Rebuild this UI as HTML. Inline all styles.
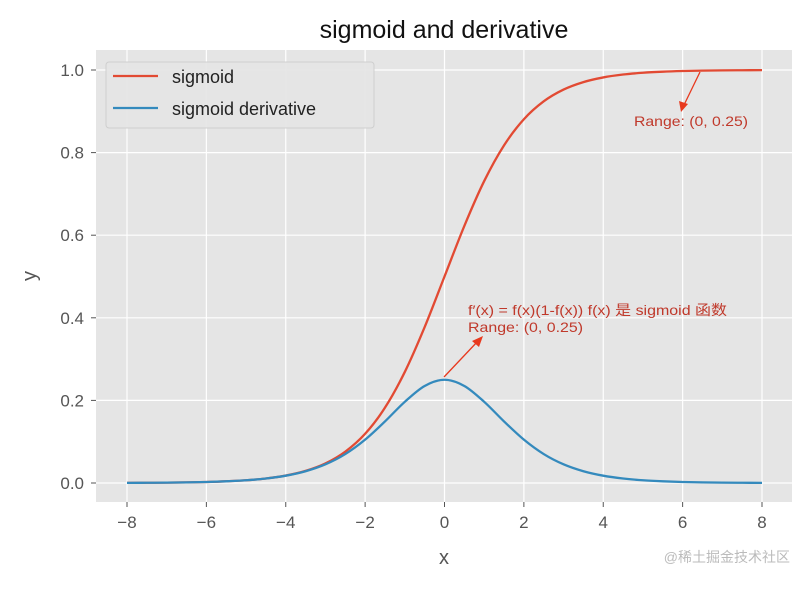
<!DOCTYPE html>
<html><head><meta charset="utf-8"><style>
body{margin:0;background:#fff;width:807px;height:585px;overflow:hidden}
text{font-family:"Liberation Sans","DejaVu Sans","Noto Sans CJK SC",sans-serif}
</style></head><body>
<svg id="chart" width="807" height="585" xmlns="http://www.w3.org/2000/svg">
<rect x="96" y="50" width="696" height="452" fill="#E5E5E5"/>
<g id="grid"></g><g id="ticks"></g><g id="series"></g>
<text x="444" y="38" font-size="25" text-anchor="middle" fill="#111">sigmoid and derivative</text>
<text x="444" y="564" font-size="20" text-anchor="middle" fill="#555">x</text>
<text x="36" y="276" font-size="20" text-anchor="middle" fill="#555" transform="rotate(-90 36 276)">y</text>
<g>
<rect x="106" y="62" width="268" height="66" rx="3" fill="#E5E5E5" stroke="#ccc" stroke-width="1" opacity="0.9"/>
<line x1="113" y1="76" x2="158" y2="76" stroke="#E24A33" stroke-width="2.2"/>
<text x="172" y="83" font-size="18" fill="#222">sigmoid</text>
<line x1="113" y1="108" x2="158" y2="108" stroke="#348ABD" stroke-width="2.2"/>
<text x="172" y="115" font-size="18" fill="#222">sigmoid derivative</text>
</g>
<g fill="#C0392B">
<text x="468" y="315" font-size="14" textLength="259" lengthAdjust="spacingAndGlyphs">f′(x) = f(x)(1-f(x)) f(x) 是 sigmoid 函数</text>
<text x="468" y="332" font-size="14" textLength="115" lengthAdjust="spacingAndGlyphs">Range: (0, 0.25)</text>
<line x1="444" y1="377" x2="478" y2="341" stroke="#E8391E" stroke-width="1.3"/>
<polygon points="483,336 472,341 479,347" fill="#E8391E"/>
</g>
<g fill="#C0392B">
<text x="634" y="126" font-size="14" textLength="114" lengthAdjust="spacingAndGlyphs">Range: (0, 0.25)</text>
<line x1="700" y1="72" x2="684" y2="105" stroke="#E8391E" stroke-width="1.3"/>
<polygon points="681,112 679,101 688,104" fill="#E8391E"/>
</g>
<text x="790" y="562" font-size="14" text-anchor="end" fill="#bbb">@稀土掘金技术社区</text>
</svg>
<script>
const xs=[-8,-7.5,-7,-6.5,-6,-5.5,-5,-4.5,-4,-3.5,-3,-2.5,-2,-1.5,-1,-0.5,0,0.5,1,1.5,2,2.5,3,3.5,4,4.5,5,5.5,6,6.5,7,7.5,8];
const sigmoidVals=[.0003,.0006,.0009,.0015,.0025,.0041,.0067,.0110,.0180,.0293,.0474,.0759,.1192,.1824,.2689,.3775,.5,.6225,.7311,.8176,.8808,.9241,.9526,.9707,.9820,.9890,.9933,.9959,.9975,.9985,.9991,.9994,.9997];
const derivVals=[.0003,.0006,.0009,.0015,.0025,.0041,.0066,.0109,.0177,.0285,.0452,.0701,.1050,.1491,.1966,.2350,.25,.2350,.1966,.1491,.1050,.0701,.0452,.0285,.0177,.0109,.0066,.0041,.0025,.0015,.0009,.0006,.0003];
const xTicks=[-8,-6,-4,-2,0,2,4,6,8];
const yTicks=[0,0.2,0.4,0.6,0.8,1.0];
const NS="http://www.w3.org/2000/svg";
const X=v=>444.5+v*(762-127)/16;
const Y=v=>483-v*413;
function mk(t,a,p){const e=document.createElementNS(NS,t);for(const k in a)e.setAttribute(k,a[k]);p.appendChild(e);return e;}
const grid=document.getElementById('grid'),ticks=document.getElementById('ticks'),ser=document.getElementById('series');
xTicks.forEach(t=>{
 const g=mk('line',{x1:X(t),x2:X(t),y1:50,y2:502,stroke:'#fff','stroke-width':1.2},grid);
 
 
 mk('line',{x1:X(t),x2:X(t),y1:502,y2:507,stroke:'#555'},ticks);
 const l=mk('text',{x:X(t),y:528,'font-size':17,'text-anchor':'middle',fill:'#555'},ticks);
 l.textContent=(t<0?'−':'')+Math.abs(t);
 
 
});
yTicks.forEach(t=>{
 const g=mk('line',{x1:96,x2:792,y1:Y(t),y2:Y(t),stroke:'#fff','stroke-width':1.2},grid);
 
 
 mk('line',{x1:91,x2:96,y1:Y(t),y2:Y(t),stroke:'#555'},ticks);
 const l=mk('text',{x:84,y:Y(t)+6,'font-size':17,'text-anchor':'end',fill:'#555'},ticks);
 l.textContent=t.toFixed(1);
 
 
});
function path(vals){
 const p=xs.map((x,i)=>[X(x),Y(vals[i])]);
 let d='M'+p[0][0]+','+p[0][1];
 for(let i=0;i<p.length-1;i++){
  const p0=p[Math.max(0,i-1)],p1=p[i],p2=p[i+1],p3=p[Math.min(p.length-1,i+2)];
  d+=' C'+(p1[0]+(p2[0]-p0[0])/6)+','+(p1[1]+(p2[1]-p0[1])/6)+' '+(p2[0]-(p3[0]-p1[0])/6)+','+(p2[1]-(p3[1]-p1[1])/6)+' '+p2[0]+','+p2[1];
 }
 return d;
}
const s1=mk('path',{d:path(sigmoidVals),fill:'none',stroke:'#E24A33','stroke-width':2.3},ser);


const s2=mk('path',{d:path(derivVals),fill:'none',stroke:'#348ABD','stroke-width':2.3},ser);


</script>
</body></html>
